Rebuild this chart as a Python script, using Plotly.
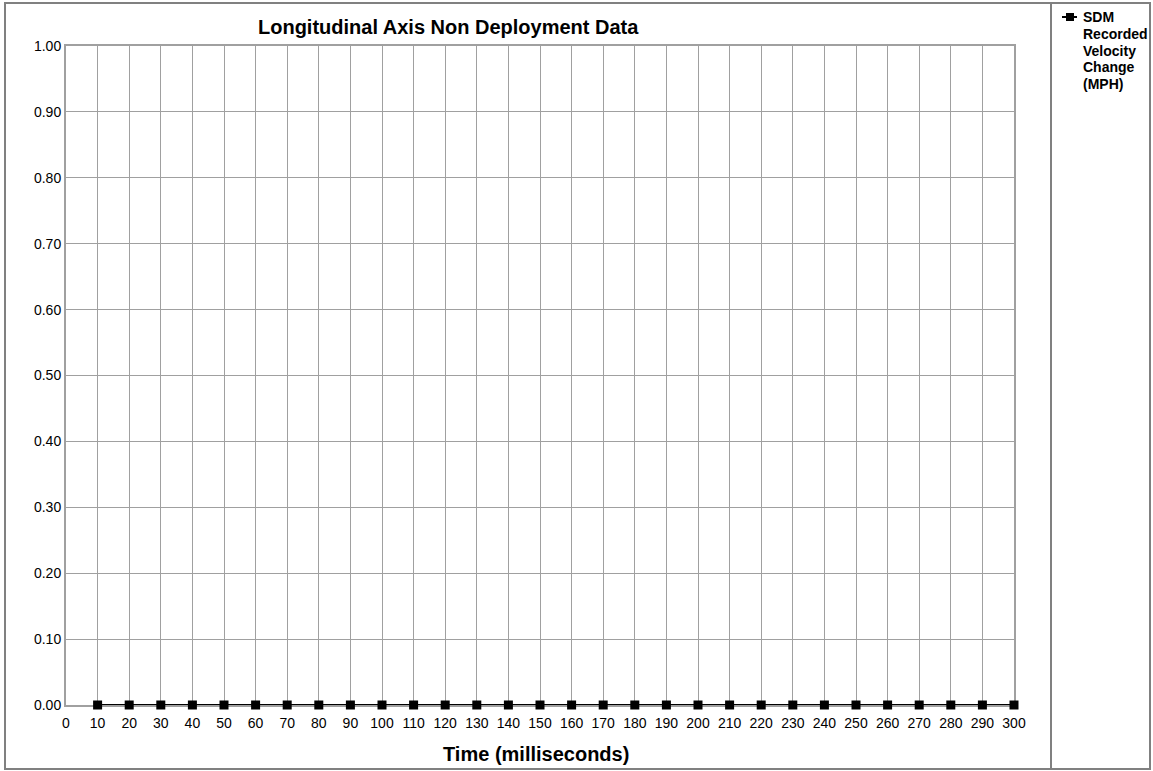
import plotly.graph_objects as go

# ---- data ----
time_ms = [10, 20, 30, 40, 50, 60, 70, 80, 90, 100, 110, 120, 130, 140, 150,
           160, 170, 180, 190, 200, 210, 220, 230, 240, 250, 260, 270, 280, 290, 300]
velocity_change = [0.0, 0.0, 0.0, 0.0, 0.0, 0.0, 0.0, 0.0, 0.0, 0.0,
                   0.0, 0.0, 0.0, 0.0, 0.0, 0.0, 0.0, 0.0, 0.0, 0.0,
                   0.0, 0.0, 0.0, 0.0, 0.0, 0.0, 0.0, 0.0, 0.0, 0.0]
x_ticks = [0, 10, 20, 30, 40, 50, 60, 70, 80, 90, 100, 110, 120, 130, 140, 150,
           160, 170, 180, 190, 200, 210, 220, 230, 240, 250, 260, 270, 280, 290, 300]
y_ticks = [0.0, 0.1, 0.2, 0.3, 0.4, 0.5, 0.6, 0.7, 0.8, 0.9, 1.0]
legend_lines = ["SDM", "Recorded", "Velocity", "Change", "(MPH)"]
title_text = "Longitudinal Axis Non Deployment Data"
x_title = "Time (milliseconds)"

W, H = 1153, 771
L, R, T, B = 66, 1014, 46, 705
FONT = "Liberation Sans, Arial, sans-serif"
GRID = "#a0a0a0"


def px(x):
    return (x - L) / (R - L)


def py(y):
    return (B - y) / (B - T)


fig = go.Figure()
fig.add_trace(go.Scatter(
    x=time_ms, y=velocity_change, mode="lines+markers",
    line=dict(color="black", width=2),
    marker=dict(symbol="square", size=9, color="black"),
    cliponaxis=False, showlegend=False, hoverinfo="skip",
))

shapes = [
    # outer frame
    dict(type="rect", xref="paper", yref="paper", x0=px(5), x1=px(1150), y0=py(769), y1=py(3),
         line=dict(color="#808080", width=2)),
    # legend separator
    dict(type="line", xref="paper", yref="paper", x0=px(1051), x1=px(1051), y0=py(769), y1=py(3),
         line=dict(color="#808080", width=2)),
    # legend symbol line
    dict(type="line", xref="paper", yref="paper", x0=px(1062), x1=px(1077), y0=py(17), y1=py(17),
         line=dict(color="black", width=2)),
    # legend symbol marker
    dict(type="rect", xref="paper", yref="paper", x0=px(1066), x1=px(1074), y0=py(21), y1=py(13),
         line=dict(color="black", width=0), fillcolor="black"),
]

annotations = [
    dict(text="<b>%s</b>" % title_text, xref="paper", yref="paper", x=px(448), y=py(27),
         showarrow=False, xanchor="center", yanchor="middle",
         font=dict(family=FONT, size=20, color="black")),
    dict(text="<b>%s</b>" % x_title, xref="paper", yref="paper", x=px(536), y=py(754),
         showarrow=False, xanchor="center", yanchor="middle",
         font=dict(family=FONT, size=20, color="black")),
]
legend_y = [17, 34.5, 51, 67.5, 84]
for txt, yy in zip(legend_lines, legend_y):
    annotations.append(dict(text="<b>%s</b>" % txt, xref="paper", yref="paper", x=px(1081), y=py(yy),
                            showarrow=False, xanchor="left", yanchor="middle",
                            font=dict(family=FONT, size=14, color="black")))

fig.update_layout(
    width=W, height=H,
    margin=dict(l=L, r=W - R, t=T, b=H - B, pad=0),
    paper_bgcolor="white", plot_bgcolor="white",
    font=dict(family=FONT, size=14, color="black"),
    shapes=shapes, annotations=annotations,
    hovermode=False,
    xaxis=dict(range=[0, 300], tickvals=x_ticks, ticktext=[str(v) for v in x_ticks],
               showgrid=True, gridcolor=GRID, gridwidth=1,
               showline=True, linecolor=GRID, linewidth=2, mirror=True,
               zeroline=False, ticks="outside", ticklen=4, tickcolor="rgba(0,0,0,0)",
               tickfont=dict(size=14, family=FONT), layer="below traces"),
    yaxis=dict(range=[0, 1], tickvals=y_ticks, ticktext=["%.2f" % v for v in y_ticks],
               showgrid=True, gridcolor=GRID, gridwidth=1,
               showline=True, linecolor=GRID, linewidth=2, mirror=True,
               zeroline=False, ticks="", tickfont=dict(size=14, family=FONT),
               layer="below traces"),
)

fig.write_html("out.html", config={"displayModeBar": False, "staticPlot": True},
               post_script="document.body.style.margin='0';document.body.style.overflow='hidden';")
